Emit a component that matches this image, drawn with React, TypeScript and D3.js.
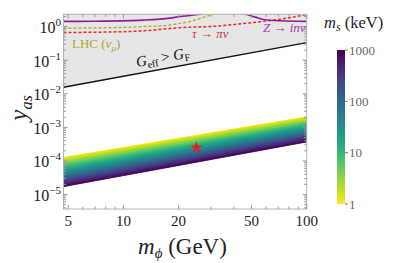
import * as d3 from "d3";

// axis ticks
const massTicks = [5, 10, 20, 50, 100];
const massMinor = [6, 7, 8, 9, 30, 40, 60, 70, 80, 90];
const yDecades = [-5, -4, -3, -2, -1, 0];
const msTicks = [1, 10, 100, 1000];

// Z -> inv (solid purple)
const zInvMass = [4.71, 6.8, 12.8, 18, 20.4, 23.1, 26.2, 34.6, 46.2, 52.4, 59.4, 71.8, 100];
const zInvY = [1.43, 1.44, 1.56, 1.79, 2.0, 2.15, 2.36, 2.7, 2.36, 1.92, 1.6, 1.49, 1.43];

// LHC (nu_mu) (dashed olive)
const lhcMass = [4.71, 6.8, 12.8, 18, 20.4, 23.1, 26.2, 29.8, 33, 38];
const lhcY = [0.9, 0.91, 1.0, 1.12, 1.25, 1.42, 1.75, 2.2, 2.6, 3.2];

// tau -> pi nu (dashed red)
const tauMass = [4.71, 6.8, 12.8, 20.4, 31.7, 47.4, 59.4, 71.8, 86.7, 100];
const tauY = [0.67, 0.68, 0.75, 0.93, 1.03, 1.27, 1.46, 1.67, 1.98, 2.3];

// G_eff > G_F boundary
const geffMass = [4.71, 100];
const geffY = [0.0157, 0.333];

// band edges (m_s = 1 keV on top, 1000 keV at bottom)
const bandMass = [4.71, 100];
const bandTop = [1.28e-4, 2.07e-3];
const bandBottom = [1.7e-5, 3.65e-4];

const starMass = 25;
const starY = 2.5e-4;

const W = 397;
const H = 263;
const serif = "Liberation Serif, Times New Roman, DejaVu Serif, serif";

const x = d3.scaleLog().domain([4.71, 100]).range([63.5, 306.7]);
const y = d3.scaleLog().domain([3.7e-6, 2.33]).range([209, 14.3]);
const cb = d3.scaleLog().domain([1, 1000]).range([204, 50]);

const toPts = (ms: number[], ys: number[]) => ms.map((m, i) => [x(m), y(ys[i])] as [number, number]);

const line = d3.line<[number, number]>().curve(d3.curveMonotoneX);

export default function App() {
  const [x0, x1] = x.range();
  const [y0, y1] = y.range();

  const geffPts = toPts(geffMass, geffY);
  const greyArea = `M${geffPts.map((p) => p.join(",")).join("L")}L${x1},${y1 - 5}L${x0},${y1 - 5}Z`;

  // band drawn as thin strips between top and bottom edge (log space)
  const N = 80;
  const strips = d3.range(N).map((i) => {
    const t0 = i / N;
    const t1 = (i + 1) / N;
    const edge = (t: number) =>
      bandMass.map((m, j) => {
        const lu = Math.log10(bandTop[j]);
        const ll = Math.log10(bandBottom[j]);
        return [x(m), y(Math.pow(10, lu + t * (ll - lu)))] as [number, number];
      });
    const a = edge(t0);
    const b = edge(t1).reverse();
    const pts = [...a, ...b];
    return {
      d: `M${pts.map((p) => p.join(",")).join("L")}Z`,
      color: d3.interpolateViridis(1 - (t0 + t1) / 2),
    };
  });

  const yMinor: number[] = [];
  for (let d = -6; d <= 0; d++) {
    for (let k = 2; k <= 9; k++) {
      const v = k * Math.pow(10, d);
      if (v > 3.7e-6 && v < 2.33) yMinor.push(v);
    }
  }

  const star = d3.symbol().type(d3.symbolStar).size(48)();
  const tickColor = "#999";

  return (
    <svg
      width={W}
      height={H}
      style={{ position: "absolute", left: 0, top: 0, background: "#fff", fontFamily: serif }}
    >
      <defs>
        <clipPath id="plot">
          <rect x={x0} y={y1} width={x1 - x0} height={y0 - y1} />
        </clipPath>
        <linearGradient id="cbar" x1="0" y1="1" x2="0" y2="0">
          {d3.range(11).map((i) => (
            <stop key={i} offset={`${i * 10}%`} stopColor={d3.interpolateViridis(1 - i / 10)} />
          ))}
        </linearGradient>
      </defs>

      <g clipPath="url(#plot)">
        <path d={greyArea} fill="#e6e6e6" />
        {strips.map((s, i) => (
          <path key={i} d={s.d} fill={s.color} stroke={s.color} strokeWidth={0.4} />
        ))}
        <path d={line(geffPts) ?? ""} fill="none" stroke="#111" strokeWidth={1.4} />
        <path d={line(toPts(tauMass, tauY)) ?? ""} fill="none" stroke="#ee2a2a" strokeWidth={1.5} strokeDasharray="3,2" />
        <path d={line(toPts(lhcMass, lhcY)) ?? ""} fill="none" stroke="#b4b42a" strokeWidth={1.5} strokeDasharray="3,2" />
        <path d={line(toPts(zInvMass, zInvY)) ?? ""} fill="none" stroke="#8e1f96" strokeWidth={1.6} />
      </g>

      <path d={star ?? ""} transform={`translate(${x(starMass)},${y(starY)})`} fill="#ee1c1c" />

      {/* frame */}
      <rect x={x0} y={y1} width={x1 - x0} height={y0 - y1} fill="none" stroke="#b3b3b3" strokeWidth={1} />

      {/* x ticks, bottom and top, inward */}
      {massTicks.map((m) => (
        <g key={`xm${m}`}>
          <line x1={x(m)} x2={x(m)} y1={y0} y2={y0 - 4} stroke={tickColor} />
          <line x1={x(m)} x2={x(m)} y1={y1} y2={y1 + 4} stroke={tickColor} />
          <text x={x(m)} y={226} fontSize={15} textAnchor="middle" fill="#222">
            {m}
          </text>
        </g>
      ))}
      {massMinor.map((m) => (
        <g key={`xn${m}`}>
          <line x1={x(m)} x2={x(m)} y1={y0} y2={y0 - 2.5} stroke={tickColor} />
          <line x1={x(m)} x2={x(m)} y1={y1} y2={y1 + 2.5} stroke={tickColor} />
        </g>
      ))}

      {/* y ticks, left and right */}
      {yDecades.map((d) => {
        const yy = y(Math.pow(10, d));
        return (
          <g key={`yd${d}`}>
            <line x1={x0} x2={x0 + 4} y1={yy} y2={yy} stroke={tickColor} />
            <line x1={x1} x2={x1 - 4} y1={yy} y2={yy} stroke={tickColor} />
            <text x={61} y={yy + 6.5} fontSize={16} textAnchor="end" fill="#222">
              10
              <tspan fontSize={11} dy={-7}>
                {d === 0 ? "0" : `\u2212${-d}`}
              </tspan>
            </text>
          </g>
        );
      })}
      {yMinor.map((v, i) => (
        <g key={`yn${i}`}>
          <line x1={x0} x2={x0 + 2.5} y1={y(v)} y2={y(v)} stroke={tickColor} />
          <line x1={x1} x2={x1 - 2.5} y1={y(v)} y2={y(v)} stroke={tickColor} />
        </g>
      ))}

      {/* in-plot labels */}
      <text x={72} y={47.5} fontSize={13} fill="#a8a832">
        LHC (<tspan fontStyle="italic">ν</tspan>
        <tspan fontSize={9} dy={3} fontStyle="italic">μ</tspan>
        <tspan dy={-3}>)</tspan>
      </text>
      <text x={137} y={67} fontSize={15} fill="#111" transform="rotate(-10.4 137 67)">
        <tspan fontStyle="italic">G</tspan>
        <tspan fontSize={10} dy={3}>eff</tspan>
        <tspan dy={-3}> &gt; </tspan>
        <tspan fontStyle="italic">G</tspan>
        <tspan fontSize={10} dy={3}>F</tspan>
      </text>
      <text x={192} y={37.5} fontSize={13} fill="#d43a3a" fontStyle="italic">
        τ → πν
      </text>
      <text x={263} y={31.5} fontSize={13} fill="#a23aa8" fontStyle="italic">
        Z → inv
      </text>

      {/* axis titles */}
      <text x={138} y={254} fontSize={23} fill="#222">
        <tspan fontStyle="italic">m</tspan>
        <tspan fontSize={15} dy={4} fontStyle="italic">ϕ</tspan>
        <tspan dy={-4}> (GeV)</tspan>
      </text>
      <text transform="translate(27,108) rotate(-90)" fontSize={25} textAnchor="middle" fill="#222" fontStyle="italic">
        y<tspan fontSize={16} dy={5}>as</tspan>
      </text>

      {/* colour bar */}
      <rect x={337} y={cb(1000)} width={8} height={cb(1) - cb(1000)} fill="url(#cbar)" />
      {msTicks.map((v) => (
        <g key={`cb${v}`}>
          <line x1={345} x2={348} y1={cb(v)} y2={cb(v)} stroke="#777" />
          <text x={349} y={cb(v) + 4.5} fontSize={13} fill="#666">
            {v}
          </text>
        </g>
      ))}
      <text x={324} y={28} fontSize={16.5} fill="#222">
        <tspan fontStyle="italic">m</tspan>
        <tspan fontSize={12} dy={3} fontStyle="italic">s</tspan>
        <tspan dy={-3}> (keV)</tspan>
      </text>
    </svg>
  );
}
